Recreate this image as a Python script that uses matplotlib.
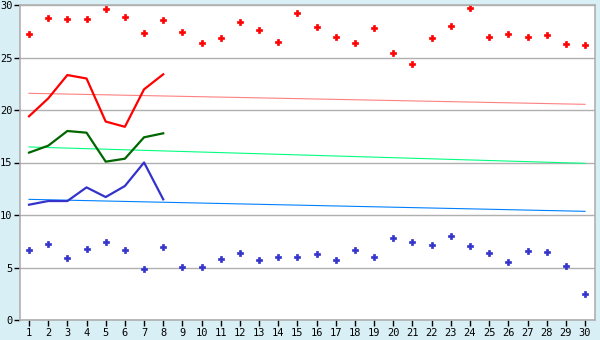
import matplotlib
matplotlib.use("Agg")
import matplotlib.pyplot as plt
import numpy as np

# day numbers on the x axis
days = list(range(1, 31))

# scattered daily values
red_points = [27.2, 28.8, 28.7, 28.7, 29.6, 28.9, 27.3, 28.6, 27.4, 26.35,
              26.9, 28.35, 27.6, 26.5, 29.2, 27.9, 27.0, 26.4, 27.8, 25.4,
              24.35, 26.9, 27.97, 29.7, 27.0, 27.2, 27.0, 27.1, 26.25, 26.15]
blue_points = [6.64, 7.2, 5.87, 6.73, 7.4, 6.64, 4.83, 6.92, 5.02, 5.02,
               5.78, 6.35, 5.68, 5.97, 5.97, 6.25, 5.68, 6.64, 5.97, 7.78,
               7.4, 7.11, 7.97, 7.02, 6.35, 5.49, 6.54, 6.45, 5.11, 2.44]

# short series, first 8 days
line_days = days[:8]
red_line = [19.4, 21.1, 23.33, 23.0, 18.9, 18.4, 21.97, 23.4]
green_line = [15.94, 16.6, 18.0, 17.84, 15.08, 15.36, 17.4, 17.78]
blue_line = [10.98, 11.33, 11.33, 12.63, 11.71, 12.76, 15.0, 11.49]

# trend lines (start, end)
trend_days = [1, 30]
red_trend = [21.59, 20.54]
green_trend = [16.48, 14.92]
blue_trend = [11.49, 10.35]

bg = "#d9eff6"
fig = plt.figure(figsize=(6, 3.4), dpi=100, facecolor=bg)
ax = fig.add_axes([20 / 600, 20 / 340, 575 / 600, 315 / 340])
ax.set_facecolor("white")

ax.plot(trend_days, red_trend, color="#ff8080", linewidth=0.8)
ax.plot(trend_days, green_trend, color="#00ff80", linewidth=0.8)
ax.plot(trend_days, blue_trend, color="#0080ff", linewidth=0.8)

ax.plot(line_days, red_line, color="#ff0000", linewidth=1.6)
ax.plot(line_days, green_line, color="#006600", linewidth=1.6)
ax.plot(line_days, blue_line, color="#3333cc", linewidth=1.6)

ax.plot(days, red_points, linestyle="none", marker="P", markersize=4.3,
        color="#ff0000", markeredgewidth=0.5)
ax.plot(days, blue_points, linestyle="none", marker="P", markersize=4.3,
        color="#3333cc", markeredgewidth=0.5)

ax.set_xlim(0.53, 30.52)
ax.set_ylim(0, 30)
ax.set_yticks(range(0, 31, 5))
ax.set_xticks(days)
ax.yaxis.grid(True, color="#b0b0b0", linewidth=1)
ax.set_axisbelow(True)
for s in ax.spines.values():
    s.set_color("#b0b0b0")
    s.set_linewidth(1.2)
ax.tick_params(axis="both", length=4, width=1, color="#000000",
               labelsize=7.5, pad=1.5)
for lab in ax.get_xticklabels() + ax.get_yticklabels():
    lab.set_family("DejaVu Sans Mono")

fig.savefig("out.png", dpi=100, facecolor=bg)
